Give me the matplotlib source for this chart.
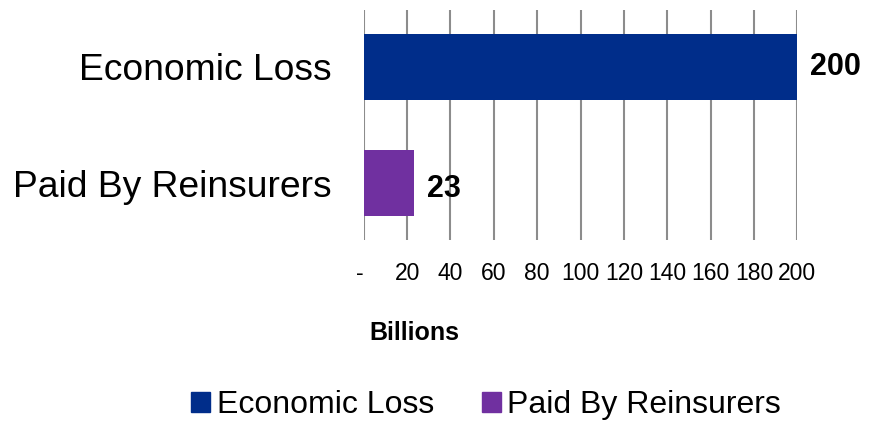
import matplotlib.pyplot as plt
from matplotlib.patches import Patch

categories = ['Paid By Reinsurers', 'Economic Loss']
values = [23, 200]
colors = ['#7030A0', '#002D8A']
tick_values = [0, 20, 40, 60, 80, 100, 120, 140, 160, 180, 200]
tick_labels = ['-', '20', '40', '60', '80', '100', '120', '140', '160', '180', '200']

plt.rcParams['font.family'] = ['Liberation Sans', 'DejaVu Sans']

fig = plt.figure(figsize=(8.71, 4.21), dpi=100)
ax = fig.add_axes([0.4176, 0.4299, 0.4978, 0.5463])

ax.barh(range(len(values)), values, height=0.57, color=colors, zorder=3)
ax.set_ylim(-0.49, 1.49)
ax.set_xlim(0, 200)

# value labels to the right of each bar
for i, v in enumerate(values):
    ax.text(v + 6, i - 0.05 * (i == 0), str(v), va='center', ha='left',
            fontsize=22, fontweight='bold', zorder=4, clip_on=False)

ax.set_yticks(range(len(categories)))
ax.set_yticklabels(categories, fontsize=26.8)
ax.tick_params(axis='y', length=0, pad=23)

ax.set_xticks(tick_values)
ax.set_xticklabels(tick_labels, fontsize=16.5)
ax.tick_params(axis='x', length=0, pad=16)
ax.get_xticklabels()[0].set_horizontalalignment('right')
ax.xaxis.grid(True, color='#8c8c8c', linewidth=1.5, zorder=0)

for s in ax.spines.values():
    s.set_visible(False)

fig.text(0.476, 0.209, 'Billions', ha='center', va='center',
         fontsize=18, fontweight='bold')

handles = [Patch(color=colors[1]), Patch(color=colors[0])]
fig.legend(handles, ['Economic Loss', 'Paid By Reinsurers'], loc='center',
           bbox_to_anchor=(0.558, 0.038), ncol=2, frameon=False, fontsize=23,
           handlelength=0.6, handleheight=0.6, handletextpad=0.2,
           columnspacing=1.5)

fig.savefig('out.png', dpi=100)
